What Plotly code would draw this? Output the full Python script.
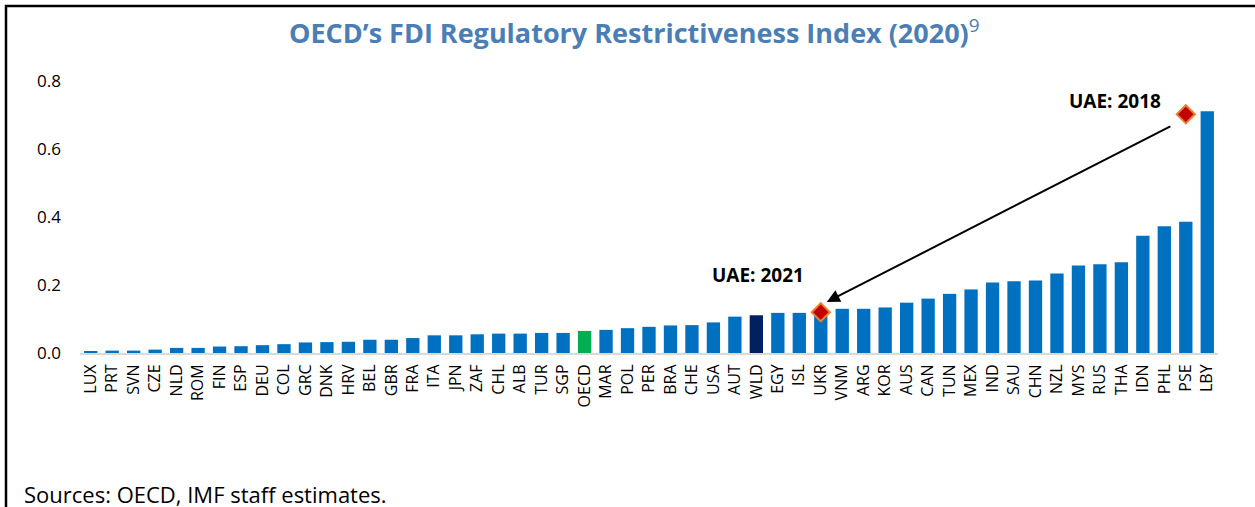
import plotly.graph_objects as go

countries = ["LUX","PRT","SVN","CZE","NLD","ROM","FIN","ESP","DEU","COL","GRC","DNK","HRV","BEL","GBR","FRA",
             "ITA","JPN","ZAF","CHL","ALB","TUR","SGP","OECD","MAR","POL","PER","BRA","CHE","USA","AUT","WLD",
             "EGY","ISL","UKR","VNM","ARG","KOR","AUS","CAN","TUN","MEX","IND","SAU","CHN","NZL","MYS","RUS",
             "THA","IDN","PHL","PSE","LBY"]
index_values = [0.004,0.007,0.007,0.010,0.015,0.015,0.019,0.020,0.023,0.026,0.031,0.032,0.033,0.039,0.039,0.044,
                0.052,0.052,0.055,0.057,0.057,0.059,0.059,0.065,0.068,0.073,0.077,0.081,0.082,0.090,0.107,0.111,
                0.118,0.118,0.118,0.130,0.130,0.134,0.148,0.160,0.174,0.187,0.207,0.211,0.213,0.234,0.257,0.261,
                0.267,0.345,0.373,0.386,0.711]

uae_labels = ["UAE: 2021", "UAE: 2018"]
uae_positions = ["UKR", "PSE"]
uae_values = [0.120, 0.702]

y_ticks = [0.0, 0.2, 0.4, 0.6, 0.8]
y_tick_labels = ["0.0", "0.2", "0.4", "0.6", "0.8"]

BLUE = "#0070C0"
special_colors = {"OECD": "#00B050", "WLD": "#002060"}
bar_colors = [special_colors.get(c, BLUE) for c in countries]

# body margin is removed by a post script, so the figure fills the window
W, H = 1255, 507
L, T = 80, 81
R = W - 1218
B = H - 352.7
pw, ph = W - L - R, H - T - B

def px_to_paper(px, py):
    return (px - L) / pw, 1 - (py - T) / ph

fig = go.Figure()
fig.add_trace(go.Bar(x=countries, y=index_values, marker=dict(color=bar_colors, line=dict(width=0)),
                     showlegend=False, hoverinfo="x+y"))
fig.add_trace(go.Scatter(x=uae_positions, y=uae_values, mode="markers",
                         marker=dict(symbol="diamond", size=14, color="#C00000",
                                     line=dict(color="#ED7D31", width=2)),
                         showlegend=False))

idx = {c: i for i, c in enumerate(countries)}
i21, i18 = idx[uae_positions[0]], idx[uae_positions[1]]
# arrow from the 2018 marker towards the 2021 marker
fig.add_annotation(x=i21 + 0.28, y=uae_values[0] + 0.03, ax=i18 - 0.65, ay=uae_values[1] - 0.033,
                   xref="x", yref="y", axref="x", ayref="y", text="", showarrow=True,
                   arrowhead=2, arrowsize=1.3, arrowwidth=2, arrowcolor="black")
fig.add_annotation(x=i21 - 2.93, y=uae_values[0] + 0.109, xref="x", yref="y", text="<b>" + uae_labels[0] + "</b>",
                   showarrow=False, font=dict(size=19, color="black", family="Open Sans"))
fig.add_annotation(x=i18 - 3.31, y=uae_values[1] + 0.039, xref="x", yref="y", text="<b>" + uae_labels[1] + "</b>",
                   showarrow=False, font=dict(size=19, color="black", family="Open Sans"))

tx, ty = px_to_paper(634, 32)
fig.add_annotation(x=tx, y=ty, xref="paper", yref="paper", xanchor="center", yanchor="middle",
                   text="<b>OECD’s FDI Regulatory Restrictiveness Index (2020)</b><sup>9</sup>",
                   showarrow=False, font=dict(size=27, color="#4A7EB5", family="Open Sans"))
sx, sy = px_to_paper(22, 494)
fig.add_annotation(x=sx, y=sy, xref="paper", yref="paper", text="Sources: OECD, IMF staff estimates.",
                   showarrow=False, xanchor="left", yanchor="middle",
                   font=dict(size=22, color="black", family="Open Sans"))

# outer frame (top and left edges visible)
x0, y0 = px_to_paper(6, 6)
x1, y1 = px_to_paper(W + 20, H + 20)
fig.add_shape(type="rect", xref="paper", yref="paper", x0=x0, y0=y0, x1=x1, y1=y1,
              line=dict(color="black", width=2.5), fillcolor="rgba(0,0,0,0)", layer="below")

fig.update_layout(
    width=W, height=H, margin=dict(l=L, r=R, t=T, b=B, autoexpand=False),
    paper_bgcolor="white", plot_bgcolor="white", bargap=0.38,
    font=dict(family="Open Sans", color="black"),
    xaxis=dict(type="category", range=[-0.5, len(countries) - 0.5], tickangle=-90, tickfont=dict(size=16),
               showgrid=False, showline=True, linecolor="#D9D9D9", linewidth=2, ticks="", ticklabelstandoff=3),
    yaxis=dict(range=[0, 0.8], tickvals=y_ticks, ticktext=y_tick_labels, showgrid=False,
               zeroline=False, showline=False, tickfont=dict(size=17), ticklabelstandoff=18),
)

fig.write_html("out.html", config={"displayModeBar": False},
               post_script="document.body.style.margin='0';document.body.style.overflow='hidden';")
